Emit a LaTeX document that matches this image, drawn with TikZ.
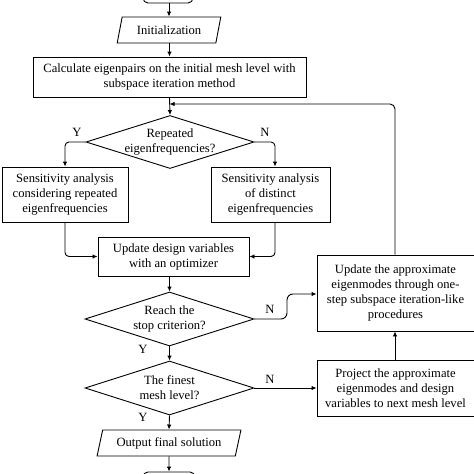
\documentclass[tikz,border=0pt]{standalone}
\usepackage{fontspec}
\setmainfont{Liberation Serif}
\usetikzlibrary{shapes.geometric,arrows.meta}
\begin{document}
\begin{tikzpicture}[x=1pt,y=-1pt,
  every node/.style={font=\fontsize{12.6}{15}\selectfont},
  box/.style={draw,line width=0.9pt,inner sep=0pt,align=center},
  term/.style={draw,line width=0.9pt,rounded corners=5pt,inner sep=0pt},
  para/.style={draw,line width=0.9pt,trapezium,trapezium left angle=69,trapezium right angle=111,trapezium stretches=true,inner sep=0pt,align=center},
  dia/.style={draw,line width=0.9pt,diamond,aspect=3.1,inner sep=-9pt,align=center},
  arr/.style={draw,line width=0.9pt,-{Latex[length=5pt,width=4.5pt]}},
  lab/.style={inner sep=0pt}]
\useasboundingbox (0,0) rectangle (474,474);
\node[term,minimum width=50pt,minimum height=20pt] (st) at (168,-7) {};
\node[para,minimum width=104pt,minimum height=26pt] (init) at (169,30) {Initialization};
\node[box,minimum width=273pt,minimum height=40pt] (calc) at (169.5,77) {Calculate eigenpairs on the initial mesh level with\\subspace iteration method};
\node[dia,minimum width=168pt,minimum height=53pt] (d1) at (170,142) {Repeated\\eigenfrequencies?};
\node[box,minimum width=126pt,minimum height=55pt] (sa1) at (65,194.5) {Sensitivity analysis\\considering repeated\\eigenfrequencies};
\node[box,minimum width=119pt,minimum height=55pt] (sa2) at (270.5,194.5) {Sensitivity analysis\\of distinct\\eigenfrequencies};
\node[box,minimum width=151pt,minimum height=39pt] (upd) at (173.5,256.5) {Update design variables\\with an optimizer};
\node[dia,minimum width=169pt,minimum height=54pt] (d2) at (169.5,319) {Reach the\\stop criterion?};
\node[dia,minimum width=169pt,minimum height=54pt] (d3) at (169.5,388) {The finest\\mesh level?};
\node[para,minimum width=144pt,minimum height=26pt] (out) at (169,443) {Output final solution};
\node[term,minimum width=52pt,minimum height=20pt] (en) at (169,482) {};
\node[box,minimum width=157pt,minimum height=76pt] (ua) at (395.5,293) {Update the approximate\\eigenmodes through one-\\step subspace iteration-like\\procedures};
\node[box,minimum width=157pt,minimum height=56pt] (pj) at (395.5,388) {Project the approximate\\eigenmodes and design\\variables to next mesh level};
\coordinate (fb) at (395,104);
\coordinate (fbin) at (169.5,104);
\draw[arr] (st.south -| init.north) -- (init.north);
\draw[arr] (init.south) -- (calc.south |- init.south) -- (calc.north);
\draw[arr] (calc.south) -- (d1.north);
\draw[arr,rounded corners=4pt] (d1.west) -| (sa1.north);
\draw[arr,rounded corners=4pt] (d1.east) -| ([xshift=4.5pt]sa2.north);
\draw[arr,rounded corners=4pt] (sa1.south) |- (upd.west);
\draw[arr,rounded corners=4pt] ([xshift=4.5pt]sa2.south) |- (upd.east);
\draw[arr] (upd.south -| d2.north) -- (d2.north);
\draw[arr,rounded corners=6pt] (d2.east) -- (287,319) -- (287,294) -- (ua.west |- 0,294);
\draw[arr] (d2.south) -- (d3.north);
\draw[arr] (d3.east) -- (pj.west);
\draw[arr] (pj.north -| 395,0) -- (ua.south -| 395,0);
\draw[arr,rounded corners=5pt] (ua.north -| fb) -- (fb) -- (fbin);
\draw[arr] (d3.south) -- (out.north);
\draw[arr] (out.south) -- (en.north);
\node[lab] (y1) at (77,132) {Y};
\node[lab] (n1) at (265,132) {N};
\node[lab] (n2) at (270,309) {N};
\node[lab] (y2) at (143,349) {Y};
\node[lab] (n3) at (270,379) {N};
\node[lab] (y3) at (143,417) {Y};
\end{tikzpicture}
\end{document}
